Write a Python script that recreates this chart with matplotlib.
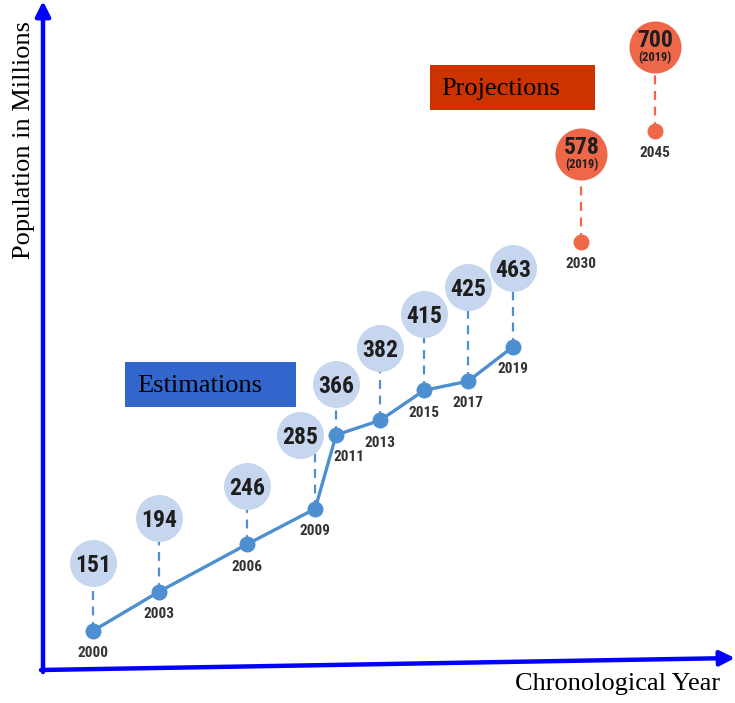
import numpy as np
import matplotlib
matplotlib.use("Agg")
import matplotlib.pyplot as plt

# population estimates and projections (millions)
years = ["2000", "2003", "2006", "2009", "2011", "2013", "2015", "2017", "2019", "2030", "2045"]
population = [151, 194, 246, 285, 366, 382, 415, 425, 463, 578, 700]
n_estimated = 9  # first nine are estimates, last two projections
projection_note = "(2019)"

# layout: horizontal slot per year, stem height (px) of each bubble
slot = [0, 3, 7, 10.1, 11.05, 13.05, 15.05, 17.05, 19.1, 22.2, 25.55]
stem_px = [68, 74, 58, 74, 51, 72, 76, 94, 79, 88, 84]
bubble_dx = [0, 0, 0, -0.7, 0, 0, 0, 0, 0, 0, 0]
label_dx = [0, 0, 0, 0, 0.6, 0, 0, 0, 0, 0, 0]

BLUE = "#4d8fd1"
PALE = "#c6d6ee"
RED = "#ee6749"
INK = "#1e1e1e"
NARROW = ["Roboto Condensed", "DejaVu Sans"]
SERIF = ["Liberation Serif", "DejaVu Serif"]

fig = plt.figure(figsize=(7.35, 7.03), dpi=100)
ax = fig.add_axes([0, 0, 1, 1])
ax.set_xlim(-93 / 22, (735 - 93) / 22)
ax.set_ylim(71.8, 843.4)
ax.axis("off")
px_per_unit = 703 / (843.4 - 71.8)

x = np.array(slot)
y = np.array(population, dtype=float)
by = y + np.array(stem_px) / px_per_unit
bx = x + np.array(bubble_dx)

est = slice(0, n_estimated)
proj = slice(n_estimated, None)

# stems
for i in range(len(years)):
    c = BLUE if i < n_estimated else RED
    ax.plot([x[i], x[i]], [y[i], by[i]], color=c, lw=1.6, ls=(0, (4, 3)), zorder=1)

# trend line and points
ax.plot(x[est], y[est], color=BLUE, lw=2.4, zorder=2)
ax.scatter(x[est], y[est], s=110, color=BLUE, zorder=3)
ax.scatter(x[proj], y[proj], s=110, color=RED, zorder=3)

# bubbles
ax.scatter(bx[est], by[est], s=1145, color=PALE, zorder=4, linewidths=0)
ax.scatter(bx[proj], by[proj], s=1402, color=RED, zorder=4, linewidths=0)

for i, yr in enumerate(years):
    ax.annotate(yr, (x[i] + label_dx[i], y[i]), xytext=(0, -11), textcoords="offset points",
                ha="center", va="top", fontsize=11, fontweight="bold",
                family=NARROW, color="#333333", zorder=5)
    if i < n_estimated:
        ax.text(bx[i], by[i], str(population[i]), ha="center", va="center_baseline",
                fontsize=17, fontweight="bold", family=NARROW, color=INK, zorder=5)
    else:
        ax.annotate(str(population[i]), (bx[i], by[i]), xytext=(0, 6), textcoords="offset points",
                    ha="center", va="center_baseline", fontsize=17, fontweight="bold",
                    family=NARROW, color=INK, zorder=5)
        ax.annotate(projection_note, (bx[i], by[i]), xytext=(0, -7), textcoords="offset points",
                    ha="center", va="center_baseline", fontsize=9, fontweight="bold",
                    family=NARROW, color=INK, zorder=5)

# section tags
fig.patches.append(plt.Rectangle((125, 703 - 407), 171, 45, transform=None,
                                 facecolor="#3366cc", edgecolor="none"))
fig.text(137 / 735, (703 - 386) / 703, "Estimations", family=SERIF, fontsize=19,
         va="center", ha="left", color="black")
fig.patches.append(plt.Rectangle((430, 703 - 110), 165, 45, transform=None,
                                 facecolor="#cc3300", edgecolor="none"))
fig.text(441 / 735, (703 - 89) / 703, "Projections", family=SERIF, fontsize=19,
         va="center", ha="left", color="black")

# hand-drawn style axes
arrow = dict(arrowstyle="-|>", color="#0000ff", lw=3.2, mutation_scale=22,
             shrinkA=0, shrinkB=0)
ax.annotate("", xy=(43, 702), xytext=(43, 31), xycoords="figure pixels",
            textcoords="figure pixels", arrowprops=arrow)
ax.annotate("", xy=(735, 45), xytext=(41, 33), xycoords="figure pixels",
            textcoords="figure pixels", arrowprops=arrow)

fig.text(24 / 735, (703 - 140) / 703, "Population in Millions", family=SERIF,
         fontsize=19, rotation=90, ha="center", va="center")
fig.text(618 / 735, (703 - 684) / 703, "Chronological Year", family=SERIF,
         fontsize=19, ha="center", va="center")

fig.savefig("out.png", dpi=100)
